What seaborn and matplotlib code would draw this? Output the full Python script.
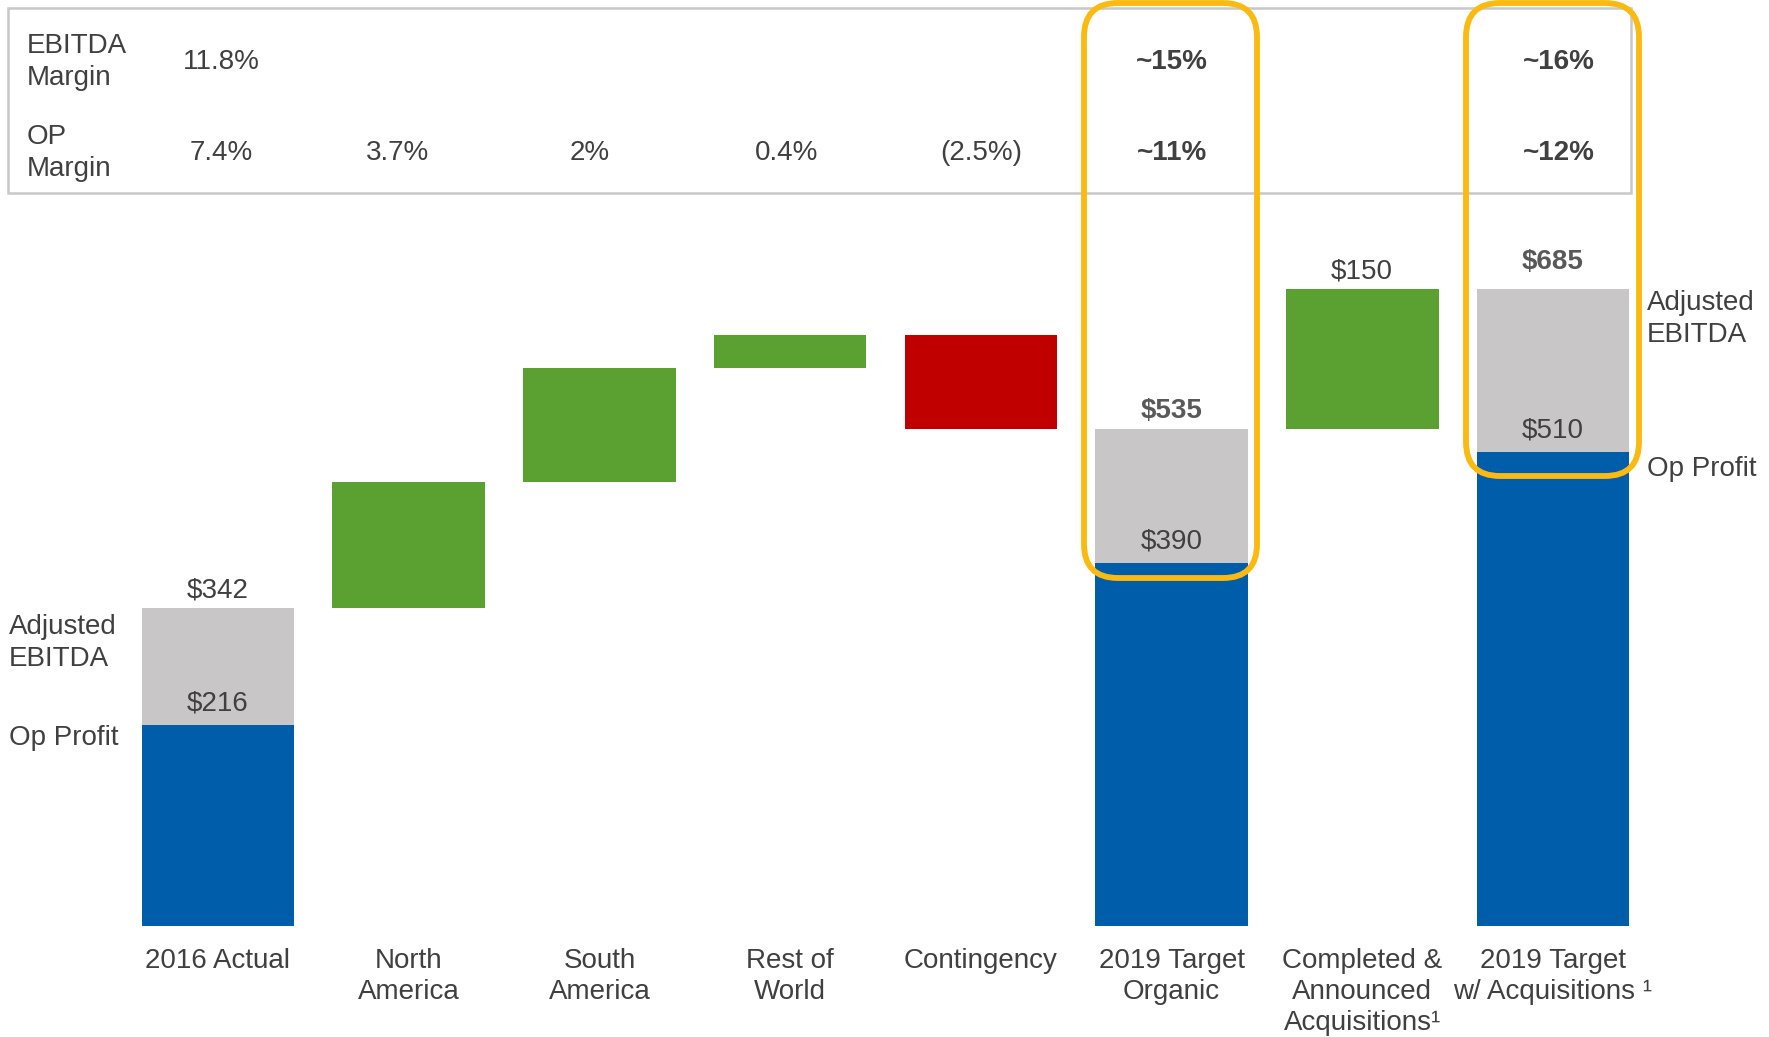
import matplotlib
matplotlib.use("Agg")
import matplotlib.pyplot as plt
import matplotlib.transforms as mtransforms
from matplotlib.patches import FancyBboxPatch, Rectangle
import seaborn as sns
import pandas as pd
import numpy as np

# ---------------- data ----------------
categories = ["2016 Actual", "North\nAmerica", "South\nAmerica", "Rest of\nWorld",
              "Contingency", "2019 Target\nOrganic",
              "Completed &\nAnnounced\nAcquisitions\u00b9",
              "2019 Target\nw/ Acquisitions \u00b9"]
total_cats = ["2016 Actual", "2019 Target\nOrganic", "2019 Target\nw/ Acquisitions \u00b9"]
ebitda_totals = [342, 535, 685]
op_profit_totals = [216, 390, 510]
delta_cats = ["North\nAmerica", "South\nAmerica", "Rest of\nWorld", "Contingency",
              "Completed &\nAnnounced\nAcquisitions\u00b9"]
delta_values = [136, 122, 36, -101, 150]
delta_labels = ["", "", "", "", "$150"]
ebitda_margin = ["11.8%", "", "", "", "", "~15%", "", "~16%"]
op_margin = ["7.4%", "3.7%", "2%", "0.4%", "(2.5%)", "~11%", "", "~12%"]
bold_cols = [5, 7]

# ---------------- style ----------------
sns.set_style("white")
plt.rcParams['font.family'] = ['Liberation Sans', 'DejaVu Sans']
TXT = "#404040"
TXT2 = "#595959"
BLUE = "#005DAA"
GRAY = "#C8C6C7"
GREEN = "#5AA132"
RED = "#C00000"
YELLOW = "#FBBA11"
FS = 20
LS = 1.27

W, H = 1769, 1037
fig = plt.figure(figsize=(W / 100, H / 100), dpi=100)
base_px = 111
ax = fig.add_axes([0, base_px / H, 1, 1 - base_px / H])

df_tot = pd.DataFrame({"category": total_cats, "ebitda": ebitda_totals, "op": op_profit_totals})
sns.barplot(data=df_tot, x="category", y="ebitda", order=categories, color=GRAY,
            saturation=1, width=0.8, errorbar=None, ax=ax, linewidth=0)
sns.barplot(data=df_tot, x="category", y="op", order=categories, color=BLUE,
            saturation=1, width=0.8, errorbar=None, ax=ax, linewidth=0)

# floating waterfall bars
running = ebitda_totals[0]
for cat, val, lab in zip(delta_cats, delta_values, delta_labels):
    idx = categories.index(cat)
    if cat.startswith("Completed"):
        running = ebitda_totals[1]
    bottom = running if val >= 0 else running + val
    ax.bar(idx, abs(val), bottom=bottom, width=0.8,
           color=GREEN if val >= 0 else RED, linewidth=0)
    if lab:
        ax.annotate(lab, (idx, bottom + abs(val)), xytext=(0, 13), textcoords="offset points",
                    ha="center", va="center", fontsize=FS, color=TXT)
    running += val

# total labels
top_off = [12.5, 13, 19.5]
for k, cat in enumerate(total_cats):
    idx = categories.index(cat)
    bold = idx in bold_cols
    ax.annotate(f"${ebitda_totals[k]}", (idx, ebitda_totals[k]), xytext=(0, top_off[k]),
                textcoords="offset points", ha="center", va="center", fontsize=FS,
                color=TXT2 if bold else TXT, fontweight="bold" if bold else "normal")
    ax.annotate(f"${op_profit_totals[k]}", (idx, op_profit_totals[k]), xytext=(0, 15.5),
                textcoords="offset points", ha="center", va="center", fontsize=FS, color=TXT)

ax.set_xlim(-1.143, 8.133)
ax.set_ylim(0, 996)
ax.set_xlabel("")
ax.set_ylabel("")
ax.set_yticks([])
for s in ax.spines.values():
    s.set_visible(False)
ax.set_xticks(range(len(categories)))
ax.set_xticklabels(categories, linespacing=LS)
ax.tick_params(axis="x", length=0, pad=15.5, labelsize=FS, labelcolor=TXT)

# margin table
blend = mtransforms.blended_transform_factory(ax.transData, fig.transFigure)
row_y = [1 - 62 / H, 1 - 153 / H]
col_dx = [3, -11, -10, -4, 0, 0, 0, 6]  # px nudges
for i in range(len(categories)):
    for r, row in enumerate([ebitda_margin, op_margin]):
        if row[i]:
            bold = i in bold_cols
            ax.text(i, row_y[r], row[i], transform=blend + mtransforms.Affine2D().translate(col_dx[i], 0),
                    ha="center", va="center",
                    fontsize=FS, color=TXT, fontweight="bold" if bold else "normal")
fig.text(27 / W, row_y[0], "EBITDA\nMargin", ha="left", va="center", fontsize=FS, color=TXT, linespacing=LS)
fig.text(27 / W, row_y[1], "OP\nMargin", ha="left", va="center", fontsize=FS, color=TXT, linespacing=LS)

ident = mtransforms.IdentityTransform()
tbl = Rectangle((8, H - 193), 1623, 185, transform=ident, fill=False,
                edgecolor="#C8C8C8", linewidth=1.8)
fig.add_artist(tbl)

# side labels
fig.text(9 / W, 1 - 643 / H, "Adjusted\nEBITDA", ha="left", va="center", fontsize=FS, color=TXT, linespacing=LS)
fig.text(9 / W, 1 - 738 / H, "Op Profit", ha="left", va="center", fontsize=FS, color=TXT)
fig.text(1647 / W, 1 - 319 / H, "Adjusted\nEBITDA", ha="left", va="center", fontsize=FS, color=TXT, linespacing=LS)
fig.text(1647 / W, 1 - 469 / H, "Op Profit", ha="left", va="center", fontsize=FS, color=TXT)

# highlight boxes
for (x0, x1, yt, yb) in [(1084, 1257, 3, 578), (1466, 1639, 3, 476)]:
    p = FancyBboxPatch((x0, H - yb), x1 - x0, yb - yt,
                       boxstyle="round,pad=0,rounding_size=34", transform=ident,
                       fill=False, edgecolor=YELLOW, linewidth=4.2, zorder=10)
    fig.add_artist(p)

fig.savefig("out.png", dpi=100)
